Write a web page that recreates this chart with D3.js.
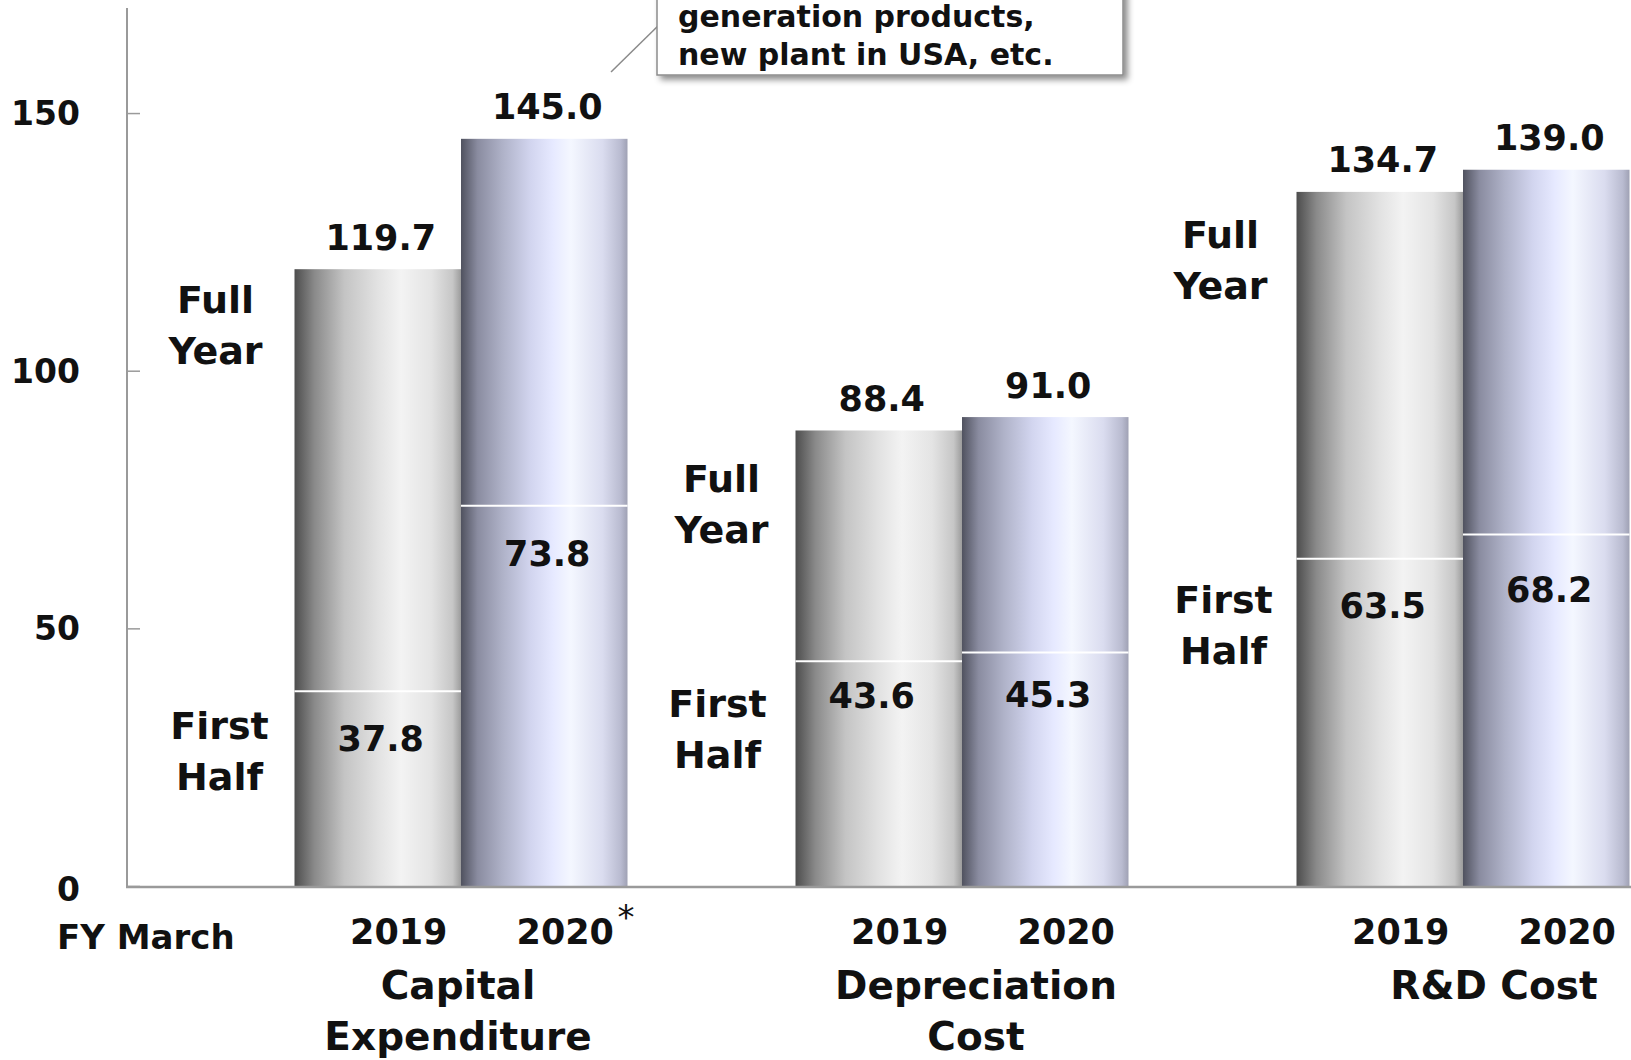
<!DOCTYPE html>
<html>
<head>
<meta charset="utf-8">
<script src="https://cdn.jsdelivr.net/npm/d3@7"></script>
<style>
  html, body { margin: 0; padding: 0; background: #fff; }
  svg { display: block; font-family: "DejaVu Sans", Verdana, sans-serif; font-weight: bold; }
</style>
</head>
<body>
<svg id="chart" width="1631" height="1060"></svg>
<script>
// Figures in 100 million yen, fiscal years ending March
const categories = ["Capital Expenditure", "Depreciation Cost", "R&D Cost"];
const categoryLines = [["Capital", "Expenditure"], ["Depreciation", "Cost"], ["R&D Cost"]];
const years = ["2019", "2020"];
const fullYear = [[119.7, 145.0], [88.4, 91.0], [134.7, 139.0]];
const firstHalf = [[37.8, 73.8], [43.6, 45.3], [63.5, 68.2]];
const yTicks = [0, 50, 100, 150];
const calloutLines = ["generation products,", "new plant in USA, etc."];

const W = 1631, H = 1060;
const svg = d3.select("#chart");

const y = d3.scaleLinear().domain([0, 170]).range([886, 10]);
const xGroup = d3.scaleBand().domain(categories).range([210.5, 1713.5]);
const xYear = d3.scaleBand().domain(years).range([84, 417]);

// Cylinder-style shading for the two years
const defs = svg.append("defs");
const grads = {
  "2019": [[0, "#4d4d4d"], [0.12, "#8a8a8a"], [0.3, "#c4c4c4"], [0.5, "#e2e2e2"], [0.64, "#f3f3f3"], [0.82, "#e4e4e4"], [0.95, "#c6c6c6"], [1, "#9c9c9c"]],
  "2020": [[0, "#50525f"], [0.1, "#8a8ca0"], [0.25, "#afb2c8"], [0.42, "#d2d5ef"], [0.55, "#e6e9ff"], [0.66, "#f4f7ff"], [0.85, "#dadcef"], [0.96, "#b9bbd0"], [1, "#9fa1b4"]]
};
Object.entries(grads).forEach(([k, stops]) => {
  const g = defs.append("linearGradient").attr("id", "g" + k)
    .attr("x1", "0%").attr("x2", "100%").attr("y1", "0%").attr("y2", "0%");
  stops.forEach(([o, c]) => g.append("stop").attr("offset", o).attr("stop-color", c));
});
const shadow = defs.append("filter").attr("id", "shadow")
  .attr("x", "-10%").attr("y", "-10%").attr("width", "130%").attr("height", "140%");
shadow.append("feDropShadow").attr("dx", 4).attr("dy", 4).attr("stdDeviation", 3)
  .attr("flood-color", "#000").attr("flood-opacity", 0.45);

// Bars
const barData = [];
categories.forEach((c, i) => years.forEach((yr, j) => barData.push({
  cat: c, ci: i, year: yr, full: fullYear[i][j], half: firstHalf[i][j]
})));
const bx = d => xGroup(d.cat) + xYear(d.year);
const bw = xYear.bandwidth();

const bars = svg.append("g");
bars.selectAll("rect").data(barData).join("rect")
  .attr("x", bx).attr("width", bw)
  .attr("y", d => y(d.full)).attr("height", d => y(0) - y(d.full))
  .attr("fill", d => "url(#g" + d.year + ")");
bars.selectAll("line").data(barData).join("line")
  .attr("x1", bx).attr("x2", d => bx(d) + bw)
  .attr("y1", d => y(d.half)).attr("y2", d => y(d.half))
  .attr("stroke", "#fff").attr("stroke-width", 2);

// Axes
const axisColor = "#9a9a9a";
const yAxis = svg.append("g").attr("transform", "translate(127,0)")
  .call(d3.axisRight(y).tickValues(yTicks).tickSize(13).tickFormat(""));
yAxis.select(".domain").remove();
yAxis.selectAll(".tick line").attr("stroke", axisColor).attr("stroke-width", 1.5);
svg.append("line").attr("x1", 127).attr("x2", 127).attr("y1", y(170) - 2).attr("y2", y(0))
  .attr("stroke", axisColor).attr("stroke-width", 2);
svg.append("line").attr("x1", 126).attr("x2", W).attr("y1", y(0) + 1).attr("y2", y(0) + 1)
  .attr("stroke", axisColor).attr("stroke-width", 2.5);

svg.append("g").selectAll("text").data(yTicks).join("text")
  .attr("x", 80).attr("y", d => y(d) + 12 + (d === 0 ? 3 : 0))
  .attr("text-anchor", "end").attr("font-size", 33).attr("fill", "#111")
  .text(d => d);

// Value labels
const valFs = 35;
svg.append("g").selectAll("text").data(barData).join("text")
  .attr("x", d => bx(d) + bw / 2 + 3).attr("y", d => y(d.full) - 32 + valFs * 0.36)
  .attr("text-anchor", "middle").attr("font-size", valFs).attr("fill", "#111")
  .text(d => d.full.toFixed(1));
const halfNudge = [[47, 48], [34, 42], [47, 55]];
const halfShift = [[3, 3], [-7, 3], [3, 3]];
svg.append("g").selectAll("text").data(barData).join("text")
  .attr("x", d => bx(d) + bw / 2 + halfShift[d.ci][years.indexOf(d.year)])
  .attr("y", d => y(d.half) + halfNudge[d.ci][years.indexOf(d.year)] + valFs * 0.36)
  .attr("text-anchor", "middle").attr("font-size", valFs).attr("fill", "#111")
  .text(d => d.half.toFixed(1));

// Side labels for the two segments
const sideFs = 38;
const sideNudge = [{ full: 30, half: 34, fx: -79, hx: -75 }, { full: 48, half: 42, fx: -74, hx: -78 }, { full: 42, half: 41, fx: -76, hx: -73 }];
categories.forEach((c, i) => {
  const left = xGroup(c) + xYear("2019");
  const g = svg.append("g").attr("font-size", sideFs).attr("fill", "#111").attr("text-anchor", "middle");
  const fTop = y(fullYear[i][0]) + sideNudge[i].full;
  ["Full", "Year"].forEach((t, k) => g.append("text")
    .attr("x", left + sideNudge[i].fx).attr("y", fTop + k * 51 + sideFs * 0.36).text(t));
  const hTop = y(firstHalf[i][0]) + sideNudge[i].half;
  ["First", "Half"].forEach((t, k) => g.append("text")
    .attr("x", left + sideNudge[i].hx).attr("y", hTop + k * 51 + sideFs * 0.36).text(t));
});

// Year labels under the bars
svg.append("g").selectAll("text").data(barData).join("text")
  .attr("x", d => bx(d) + bw / 2 + 21).attr("y", 931 + valFs * 0.36)
  .attr("text-anchor", "middle").attr("font-size", valFs).attr("fill", "#111")
  .text(d => d.year);
svg.append("text").attr("x", xGroup(categories[0]) + xYear("2020") + bw - 10).attr("y", 929)
  .attr("font-size", 34).attr("font-weight", "normal").attr("fill", "#111").text("*");

svg.append("text").attr("x", 57).attr("y", 936 + 35 * 0.36)
  .attr("font-size", 34).attr("fill", "#111").text("FY March");

// Category names
const catShift = [-3, 14, 31];
categories.forEach((c, i) => {
  categoryLines[i].forEach((t, k) => svg.append("text")
    .attr("x", xGroup(c) + xGroup.bandwidth() / 2 + catShift[i])
    .attr("y", 985 + k * 51 + 39 * 0.36)
    .attr("text-anchor", "middle").attr("font-size", 39).attr("fill", "#111").text(t));
});

// Callout note for the capital expenditure plan
svg.append("line").attr("x1", 611).attr("y1", 72).attr("x2", 662).attr("y2", 22)
  .attr("stroke", "#8a8a8a").attr("stroke-width", 1.5);
svg.append("rect").attr("x", 657).attr("y", -20).attr("width", 466).attr("height", 95)
  .attr("fill", "#fff").attr("stroke", "#8c8c8c").attr("stroke-width", 1.5)
  .attr("filter", "url(#shadow)");
svg.append("g").selectAll("text").data(calloutLines).join("text")
  .attr("x", 678).attr("y", (d, i) => 16 + i * 38 + 30 * 0.36)
  .attr("font-size", 30).attr("fill", "#111").text(d => d);
</script>
</body>
</html>
